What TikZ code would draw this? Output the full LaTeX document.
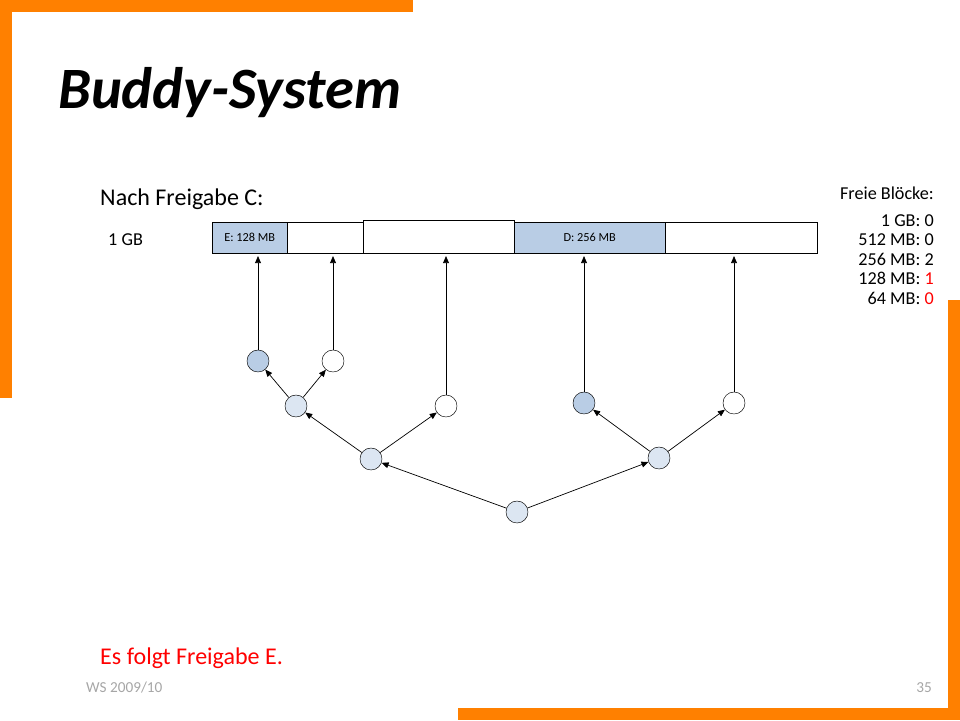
\documentclass[tikz,border=0pt]{standalone}
\usepackage{fontspec}
\setmainfont{Carlito}
\usetikzlibrary{arrows.meta}
\definecolor{slideorange}{HTML}{FF8000}
\definecolor{blockblue}{HTML}{B9CDE5}
\definecolor{nodelight}{HTML}{DCE6F2}
\definecolor{footgray}{HTML}{A6A6A6}
\tikzset{
  blk/.style={draw=black, minimum height=31*0.03cm, inner sep=0pt, font=\fontsize{10.5}{12}\selectfont, anchor=west},
  knot/.style={circle, draw=black, minimum size=22*0.03cm, inner sep=0pt},
  used/.style={knot, fill=blockblue},
  split/.style={knot, fill=nodelight},
  free/.style={knot, fill=white},
  arrow/.style={-{Triangle[length=6pt,width=5pt]}, semithick}
}
\begin{document}
\begin{tikzpicture}[x=0.03cm, y=-0.03cm]
\useasboundingbox (0,0) rectangle (960,720);
% orange frame pieces
\fill[slideorange] (0,0) rectangle (413,12);
\fill[slideorange] (0,0) rectangle (12,398);
\fill[slideorange] (948,300) rectangle (960,720);
\fill[slideorange] (458,708) rectangle (960,720);

\node (title) [anchor=base west, inner sep=0pt, font=\fontsize{50}{54}\bfseries\itshape\selectfont] at (58,108) {Buddy-System};
\node (state) [anchor=base west, inner sep=0pt, font=\fontsize{20.5}{24}\selectfont] at (100,205) {Nach Freigabe C:};
\node (size) [anchor=base west, inner sep=0pt, font=\fontsize{15.5}{18}\selectfont] at (108,245) {1 GB};

% memory blocks
\node (bE) [blk, fill=blockblue, minimum width=75*0.03cm] at (212,237.5) {E: 128 MB};
\node (bF) [blk, minimum width=76*0.03cm] at (287,237.5) {};
\node (bG) [blk, minimum width=151*0.03cm, minimum height=33*0.03cm] at (363,236.5) {};
\node (bD) [blk, fill=blockblue, minimum width=151*0.03cm] at (514,237.5) {D: 256 MB};
\node (bH) [blk, minimum width=152*0.03cm] at (665,237.5) {};

% free list
\node (list) [anchor=north east, align=right, inner sep=0pt, font=\fontsize{15.5}{16.6}\selectfont] at (934,187) {Freie Blöcke:\\[6pt]
1 GB: 0\\ 512 MB: 0\\ 256 MB: 2\\ 128 MB: \textcolor{red}{1}\\ 64 MB: \textcolor{red}{0}};

% tree
\node (root) [split] at (517,512) {};
\node (l) [split] at (371,459) {};
\node (r) [split] at (659,458) {};
\node (ll) [split] at (296,406) {};
\node (lr) [free] at (446,406) {};
\node (lll) [used] at (258,361) {};
\node (llr) [free] at (333,361) {};
\node (rl) [used] at (584,403) {};
\node (rr) [free] at (734,403) {};

\draw [arrow] (root) -- (l);
\draw [arrow] (root) -- (r);
\draw [arrow] (l) -- (ll);
\draw [arrow] (l) -- (lr);
\draw [arrow] (ll) -- (lll);
\draw [arrow] (ll) -- (llr);
\draw [arrow] (r) -- (rl);
\draw [arrow] (r) -- (rr);

\draw [arrow] (lll) -- (258,256);
\draw [arrow] (llr) -- (333,256);
\draw [arrow] (lr) -- (446,256);
\draw [arrow] (rl) -- (584,256);
\draw [arrow] (rr) -- (734,256);

\node (next) [anchor=base west, inner sep=0pt, text=red, font=\fontsize{20.5}{24}\selectfont] at (100,664) {Es folgt Freigabe E.};
\node (term) [anchor=base west, inner sep=0pt, text=footgray, font=\fontsize{13}{15}\selectfont] at (86,692) {WS 2009/10};
\node (page) [anchor=base east, inner sep=0pt, text=footgray, font=\fontsize{13}{15}\selectfont] at (932,692) {35};
\end{tikzpicture}
\end{document}
